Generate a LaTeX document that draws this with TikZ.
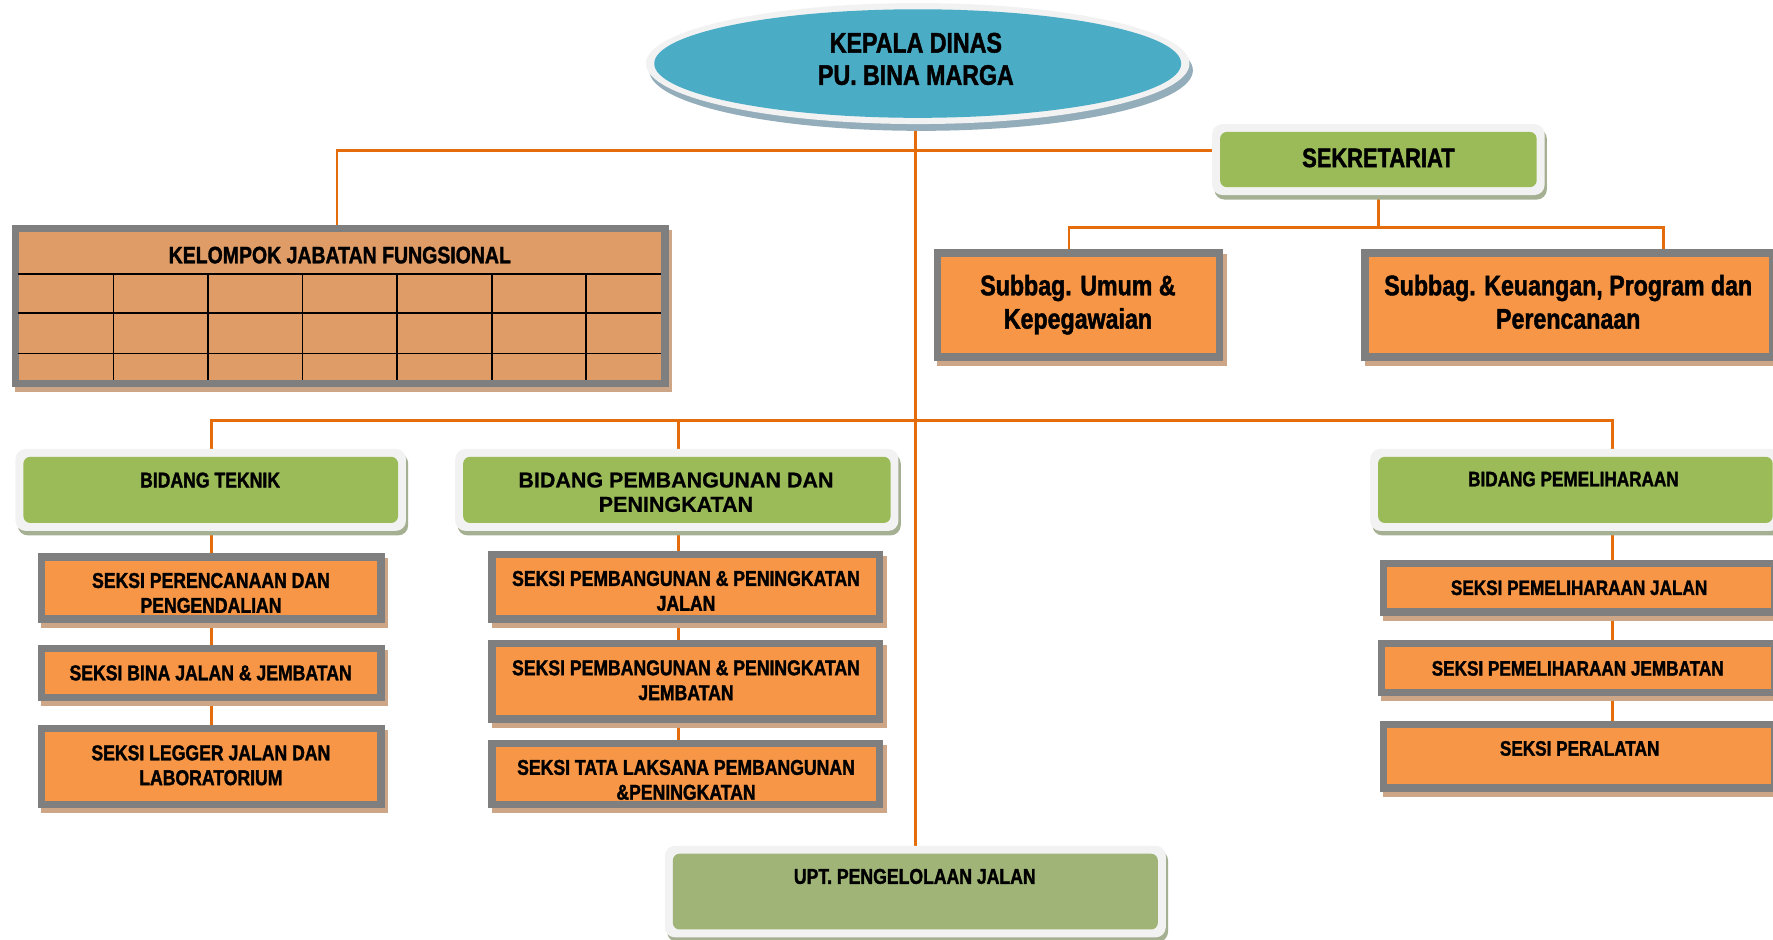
\documentclass[tikz,border=0pt]{standalone}
\usepackage{fontspec}
\newfontfamily\nar{Liberation Sans}[FakeStretch=0.82, BoldFeatures={FakeBold=1.5}]
\newfontfamily\reg{Liberation Sans}[BoldFeatures={FakeBold=0.8}]
\usetikzlibrary{shapes.geometric,shadows,backgrounds}
\definecolor{lineor}{HTML}{E46C0A}
\definecolor{kdblue}{HTML}{4BACC6}
\definecolor{rimgray}{HTML}{F2F2F2}
\definecolor{kdshd}{HTML}{94ADBA}
\definecolor{grfill}{HTML}{9BBB59}
\definecolor{uptfill}{HTML}{A0B478}
\definecolor{grshd}{HTML}{A5AF92}
\definecolor{orfill}{HTML}{F79646}
\definecolor{frgray}{HTML}{7F7F7F}
\definecolor{tanshd}{HTML}{CDA587}
\definecolor{kjffill}{HTML}{E09C66}
\tikzset{
  conn/.style={draw=lineor, line width=2.2pt},
  gridline/.style={draw=black, line width=1.5pt},
  kdshape/.style={ellipse, fill=rimgray, inner sep=0pt, outer sep=0pt,
    drop shadow={shadow xshift=3pt, shadow yshift=-6pt, fill=kdshd, opacity=1},
    path picture={\fill[kdblue] (path picture bounding box.center) ellipse [x radius=233pt, y radius=48pt];}},
  seksi/.style={rectangle, fill=frgray, inner sep=0pt, outer sep=0pt,
    drop shadow={shadow xshift=3pt, shadow yshift=-4.5pt, fill=tanshd, opacity=1},
    path picture={\fill[#1] ([xshift=6.5pt,yshift=-6.5pt]path picture bounding box.north west) rectangle ([xshift=-6.5pt,yshift=6.5pt]path picture bounding box.south east);}},
  seksi/.default=orfill,
  gbox/.style={rectangle, rounded corners=9pt, fill=rimgray, inner sep=0pt, outer sep=0pt,
    drop shadow={shadow xshift=2pt, shadow yshift=-4pt, fill=grshd, opacity=1},
    path picture={\fill[#1, rounded corners=6pt] ([xshift=7pt,yshift=-7pt]path picture bounding box.north west) rectangle ([xshift=-7pt,yshift=7pt]path picture bounding box.south east);}},
  gbox/.default=grfill,
  lbl/.style={inner sep=0pt, outer sep=0pt, text depth=0pt, align=center, text=black},
  fkd/.style={lbl, font=\nar\bfseries\fontsize{25}{28.5}\selectfont},
  fsek/.style={lbl, font=\nar\bfseries\fontsize{23.6}{28}\selectfont},
  fkjf/.style={lbl, font=\nar\bfseries\fontsize{21}{25}\selectfont},
  fsub/.style={lbl, font=\nar\bfseries\fontsize{25}{29.5}\selectfont},
  fbp/.style={lbl, font=\reg\bfseries\fontsize{19}{21.5}\selectfont},
  fnn/.style={lbl, font=\nar\bfseries\fontsize{19}{22}\selectfont},
  fee/.style={lbl, font=\nar\bfseries\fontsize{18.5}{22}\selectfont},
}
\begin{document}
\begin{tikzpicture}[x=1pt,y=-1pt]
\useasboundingbox (0,0) rectangle (1568,831);

% boxes
\node[kdshape, minimum width=480.7pt, minimum height=107pt] (kd) at (811.6,56.2) {};
\node[gbox, minimum width=294pt, minimum height=62.8pt] (sek) at (1219,141.1) {};
\node[seksi=kjffill, minimum width=581.3pt, minimum height=143.5pt] (kjf) at (300.85,270.75) {};
\node[seksi, minimum width=256pt, minimum height=98.5pt] (su) at (954,269.8) {};
\node[seksi, minimum width=366.7pt, minimum height=98.5pt] (sk) at (1387.2,269.8) {};

\node[gbox, minimum width=345.3pt, minimum height=72.5pt] (bt) at (186.35,433.25) {};
\node[gbox, minimum width=392pt, minimum height=72.5pt] (bp) at (598.6,433.25) {};
\node[gbox, minimum width=363pt, minimum height=72.5pt] (bm) at (1393.2,433.25) {};

\node[seksi, minimum width=306.7pt, minimum height=61.3pt] (s11) at (186.9,520) {};
\node[seksi, minimum width=306.7pt, minimum height=49.6pt] (s12) at (186.9,595.2) {};
\node[seksi, minimum width=306.7pt, minimum height=73.7pt] (s13) at (186.9,678) {};

\node[seksi, minimum width=349pt, minimum height=63.4pt] (s21) at (606.5,519) {};
\node[seksi, minimum width=349pt, minimum height=73.1pt] (s22) at (606.5,602.6) {};
\node[seksi, minimum width=349pt, minimum height=60.4pt] (s23) at (606.5,684.7) {};

\node[seksi, minimum width=353pt, minimum height=49.2pt] (s31) at (1396.5,519.9) {};
\node[seksi, minimum width=354.5pt, minimum height=49.6pt] (s32) at (1395.75,590.8) {};
\node[seksi, minimum width=352.5pt, minimum height=62.8pt] (s33) at (1396.75,668.8) {};

\node[gbox=uptfill, minimum width=443pt, minimum height=81pt] (upt) at (809.5,788.5) {};

% grid of the functional group table
\foreach \yy in {242.6,276.5,312.5} \draw[gridline] (15.5,\yy) -- (585,\yy);
\foreach \xx in {100.5,183.8,267.5,350.8,435.1,518.3} \draw[gridline] (\xx,242.6) -- (\xx,336);

% connectors
\coordinate (hA) at (298,133);
\coordinate (bL) at (945.5,201.4);
\coordinate (bR) at (1471.3,201.4);
\coordinate (c1) at (187,372);
\coordinate (c2) at (600,372);
\coordinate (c3) at (1426,372);
\begin{scope}[on background layer]
\draw[conn] (upt.north |- kd.south) -- (upt.north);
\draw[conn] (kjf.north -| hA) -- (hA) -- (hA -| sek.west);
\draw[conn] (sek.south) -- (sek.south |- bL);
\draw[conn] (su.north -| bL) -- (bL) -- (bR) -- (sk.north -| bR);
\draw[conn] (c1 |- bt.north) -- (c1) -- (c3) -- (c3 |- bm.north);
\draw[conn] (c2) -- (c2 |- bp.north);
\draw[conn] (c1 |- bt.south) -- (c1 |- s11.north);
\draw[conn] (c1 |- s11.south) -- (c1 |- s12.north);
\draw[conn] (c1 |- s12.south) -- (c1 |- s13.north);
\draw[conn] (c2 |- bp.south) -- (c2 |- s21.north);
\draw[conn] (c2 |- s21.south) -- (c2 |- s22.north);
\draw[conn] (c2 |- s22.south) -- (c2 |- s23.north);
\draw[conn] (c3 |- bm.south) -- (c3 |- s31.north);
\draw[conn] (c3 |- s31.south) -- (c3 |- s32.north);
\draw[conn] (c3 |- s32.south) -- (c3 |- s33.north);
\end{scope}

% texts
\node[fkd] (kdT) at (810,52) {KEPALA DINAS\\PU. BINA MARGA};
\node[fsek] (sekT) at (1219,139.5) {SEKRETARIAT};
\node[fkjf] (kjfT) at (300.5,225.5) {KELOMPOK JABATAN FUNGSIONAL};
\node[fsub] (suT) at (953.3,266.8) {Subbag. Umum \&\\Kepegawaian};
\node[fsub] (skT) at (1386.9,266.8) {Subbag. Keuangan, Program dan\\Perencanaan};
\node[fnn] (btT) at (185.8,424.5) {BIDANG TEKNIK};
\node[fbp] (bpT) at (597.8,435.2) {BIDANG PEMBANGUNAN DAN\\PENINGKATAN};
\node[fee] (bmT) at (1391.5,423.6) {BIDANG PEMELIHARAAN};
\node[fnn] (s11T) at (186.6,524.3) {SEKSI PERENCANAAN DAN\\PENGENDALIAN};
\node[fnn] (s12T) at (186.3,595) {SEKSI BINA JALAN \& JEMBATAN};
\node[fnn] (s13T) at (186.5,676.7) {SEKSI LEGGER JALAN DAN\\LABORATORIUM};
\node[fnn] (s21T) at (606.7,522.5) {SEKSI PEMBANGUNAN \& PENINGKATAN\\JALAN};
\node[fnn] (s22T) at (606.7,601.5) {SEKSI PEMBANGUNAN \& PENINGKATAN\\JEMBATAN};
\node[fnn] (s23T) at (606.7,689.6) {SEKSI TATA LAKSANA PEMBANGUNAN\\\&PENINGKATAN};
\node[fee] (s31T) at (1396.5,519.7) {SEKSI PEMELIHARAAN JALAN};
\node[fee] (s32T) at (1395.3,591) {SEKSI PEMELIHARAAN JEMBATAN};
\node[fee] (s33T) at (1397,661.8) {SEKSI PERALATAN};
\node[fnn] (uptT) at (809,775) {UPT. PENGELOLAAN JALAN};
\end{tikzpicture}
\end{document}
